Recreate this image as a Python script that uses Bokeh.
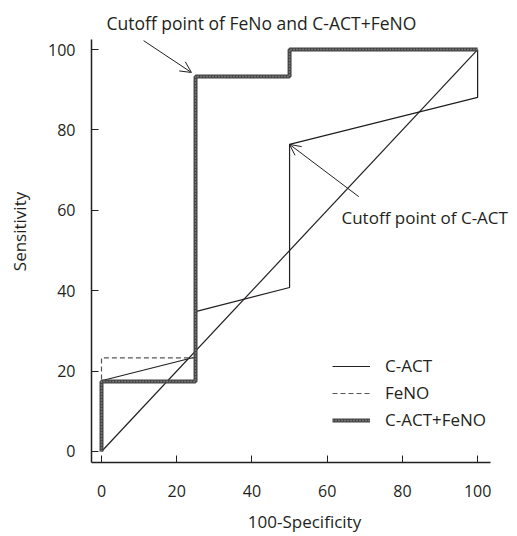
from bokeh.plotting import figure
from bokeh.models import Range1d, Legend, LegendItem, Label, Arrow, OpenHead, FixedTicker
from bokeh.embed import file_html
from bokeh.resources import INLINE

# ---- data ----
diag_x = [0, 100]
diag_y = [0, 100]

cact_x = [0, 0, 25, 25, 50, 50, 100, 100]
cact_y = [0, 17.6, 23.5, 34.8, 40.8, 76.4, 88.1, 100]

feno_x = [0, 0, 25, 25, 50, 50, 100]
feno_y = [0, 23.3, 23.3, 93.3, 93.3, 100, 100]

comb_x = [0, 0, 25, 25, 50, 50, 100]
comb_y = [0, 17.4, 17.4, 93.3, 93.3, 100, 100]

x_ticks = [0, 20, 40, 60, 80, 100]
y_ticks = [0, 20, 40, 60, 80, 100]

series_names = ["C-ACT", "FeNO", "C-ACT+FeNO"]

FONT = "Open Sans"
INK = "#231f20"

p = figure(width=517, height=536, output_backend="svg", toolbar_location=None,
           x_range=Range1d(-2.66, 110.6), y_range=Range1d(-2.74, 112.2),
           min_border_left=91, min_border_right=0, min_border_top=0, min_border_bottom=74)
p.outline_line_color = None
p.xgrid.grid_line_color = None
p.ygrid.grid_line_color = None
p.background_fill_color = "white"
p.border_fill_color = "white"

for ax, ticks in ((p.xaxis, x_ticks), (p.yaxis, y_ticks)):
    ax.ticker = FixedTicker(ticks=ticks)
    ax.major_tick_in = 7
    ax.major_tick_out = 0
    ax.minor_tick_line_color = None
    ax.axis_line_color = INK
    ax.axis_line_width = 1.5
    ax.major_tick_line_color = INK
    ax.major_tick_line_width = 1
    ax.major_label_text_font = FONT
    ax.major_label_text_font_size = "16px"
    ax.major_label_text_color = INK
    ax.axis_label_text_font = FONT
    ax.axis_label_text_font_size = "17px"
    ax.axis_label_text_font_style = "normal"
    ax.axis_label_text_color = INK
p.xaxis.bounds = (-2.66, 103.3)
p.yaxis.bounds = (-2.74, 102.5)
p.yaxis.major_label_standoff = 16
p.xaxis.major_label_standoff = 22

p.yaxis.axis_label = "Sensitivity"
p.yaxis.axis_label_standoff = 14
p.xaxis.axis_label = "100-Specificity"
p.xaxis.axis_label_standoff = 10

# diagonal
p.line(diag_x, diag_y, line_color=INK, line_width=1.2)
# C-ACT
r_cact = p.line(cact_x, cact_y, line_color=INK, line_width=1.2)
# FeNO
r_feno = p.line(feno_x, feno_y, line_color="#555555", line_width=1.2, line_dash="5 3")
# combined (thick dotted texture)
r_comb1 = p.line(comb_x, comb_y, line_color="#454545", line_width=4)
r_comb2 = p.line(comb_x, comb_y, line_color="#a0a0a0", line_width=1.4, line_dash="1 2")

legend = Legend(items=[
    LegendItem(label=series_names[0], renderers=[r_cact]),
    LegendItem(label=series_names[1], renderers=[r_feno]),
    LegendItem(label=series_names[2], renderers=[r_comb1, r_comb2]),
], location=(241, 31))
legend.padding = 0
legend.margin = 0
legend.border_line_color = None
legend.background_fill_alpha = 0
legend.glyph_width = 38
legend.glyph_height = 20
legend.label_height = 20
legend.spacing = 4
legend.label_standoff = 15
legend.label_text_font = FONT
legend.label_text_font_size = "17px"
legend.label_text_color = INK
p.add_layout(legend)

# annotations
p.add_layout(Arrow(end=OpenHead(size=11, line_color=INK, line_width=1),
                   x_start=11.2, y_start=102.2, x_end=23.9, y_end=94.3,
                   line_color=INK, line_width=1))
p.add_layout(Arrow(end=OpenHead(size=11, line_color=INK, line_width=1),
                   x_start=68.4, y_start=63.4, x_end=50.0, y_end=76.4,
                   line_color=INK, line_width=1))

p.add_layout(Label(x=1.33, y=106.5, text="Cutoff point of FeNo and C-ACT+FeNO",
                   text_font=FONT, text_font_size="17.5px", text_color=INK,
                   text_baseline="middle", text_align="left"))
p.add_layout(Label(x=63.8, y=58.3, text="Cutoff point of C-ACT",
                   text_font=FONT, text_font_size="17px", text_color=INK,
                   text_baseline="middle", text_align="left"))

open("out.html", "w").write(file_html(p, INLINE))
